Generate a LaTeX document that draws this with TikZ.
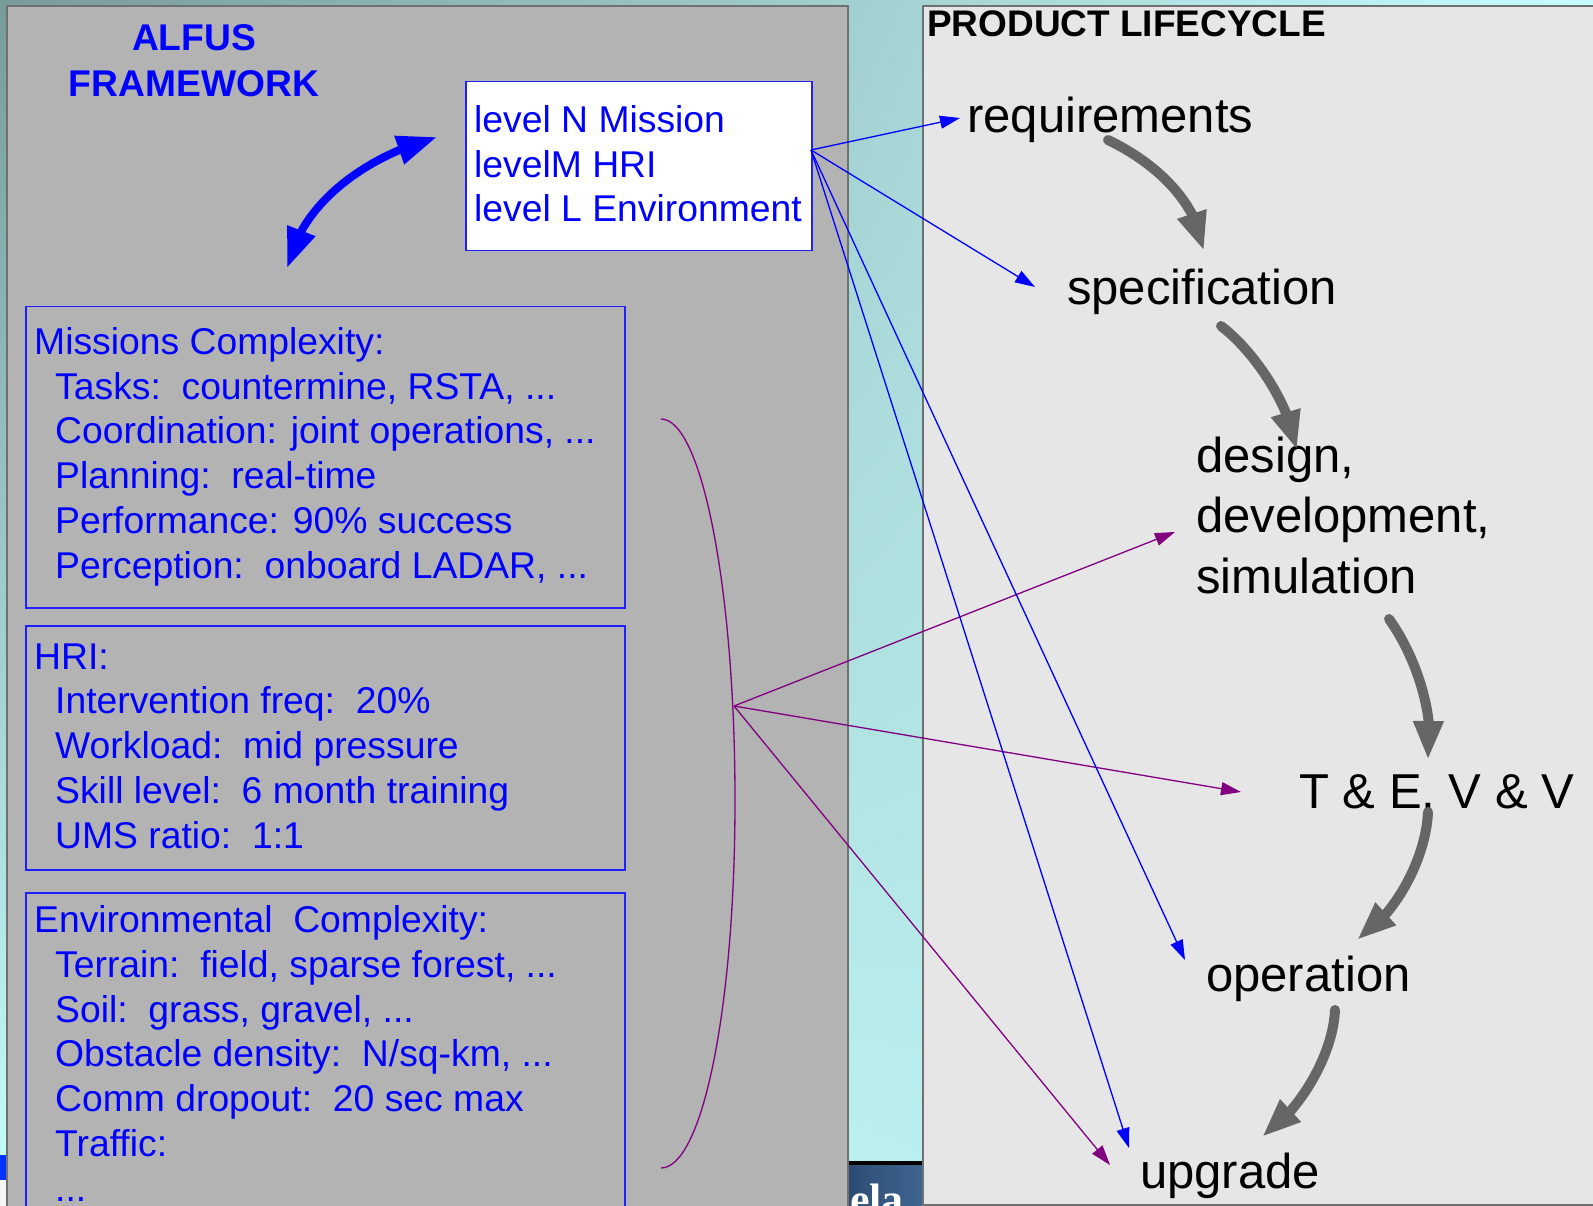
\documentclass[tikz,border=0pt]{standalone}
\usepackage{fontspec}
\setmainfont{Liberation Sans}
\newfontfamily\photoserif{Liberation Serif}
\usetikzlibrary{arrows.meta,bending,shadings}

\definecolor{bgdark}{HTML}{789A9A}
\definecolor{bgcyan}{HTML}{C6FEFE}
\definecolor{bgcyanlow}{HTML}{C6FEFE}
\definecolor{bgteal}{HTML}{B4E4E4}
\definecolor{panelgray}{HTML}{B3B3B3}
\definecolor{panellight}{HTML}{E6E6E6}
\definecolor{edgegray}{HTML}{707070}
\definecolor{cyclegray}{HTML}{666666}
\definecolor{linkblue}{HTML}{0000FF}
\definecolor{linkpurple}{HTML}{800080}
\definecolor{boxblue}{HTML}{2020FF}
\definecolor{photoblue}{HTML}{2E4C72}
\definecolor{photoblue2}{HTML}{3E6590}

\begin{document}
\begin{tikzpicture}[x=1pt,y=-1pt,
  listbox/.style={draw=boxblue, line width=1.5pt, anchor=north west, inner sep=0pt},
  listtext/.style={anchor=base west, inner sep=0pt, align=left, text=linkblue,
    font=\fontsize{37.3}{44.7}\selectfont},
  stage/.style={anchor=base west, inner sep=0pt, align=left, text=black,
    font=\fontsize{49}{60.5}\selectfont},
  cyclearrow/.style={draw=cyclegray, line width=10pt, line cap=round,
    -{Triangle[length=39pt,width=28pt]}},
  bluelink/.style={draw=linkblue, line width=1.3pt, -{Triangle[length=20pt,width=13pt]}},
  purplelink/.style={draw=linkpurple, line width=1.3pt, -{Triangle[length=20pt,width=13pt]}},
]
\useasboundingbox (0,0) rectangle (1593,1206);
\clip (0,0) rectangle (1593,1206);

% slide background
\shade[upper left=bgdark, upper right=bgcyan, lower left=bgcyanlow, lower right=bgteal]
  (0,0) rectangle (1593,1206);
\fill[blue!80!cyan] (0,1155) rectangle (7,1180);
\fill[gray!8] (0,1180) rectangle (7,1206);

% photo strip between the panels
\fill[black] (848,1161) rectangle (923,1165);
\shade[left color=photoblue, right color=photoblue2] (848,1165) rectangle (923,1206);
\node (photo) [anchor=base west, inner sep=0pt, text=white,
  font=\photoserif\bfseries\fontsize{44}{44}\selectfont] at (850,1214) {ela};

% left panel: ALFUS framework
\fill[panelgray] (7,6) rectangle (848,1215);
\draw[edgegray, line width=1.2pt] (7,1215) -- (7,6) -- (848,6) -- (848,1215);

% right panel: product lifecycle
\filldraw[fill=panellight, draw=edgegray, line width=1.5pt] (923,6) rectangle (1610,1205);

% multi-line texts are placed by the baseline of their last line
\node (title) [anchor=base, inner sep=0pt, align=center, text=linkblue,
  font=\bfseries\fontsize{37.2}{46}\selectfont] at (194,97) {ALFUS\\FRAMEWORK};
\node (lctitle) [anchor=base west, inner sep=0pt, text=black,
  font=\bfseries\fontsize{37}{44}\selectfont] at (927,37) {PRODUCT LIFECYCLE};

% level box
\node (levels) [listbox, fill=white, minimum width=346pt, minimum height=169pt] at (465,81) {};
\node (levelstext) [listtext] at (474,222) {level N Mission\\levelM HRI\\level L Environment};

% complexity boxes
\node (mbox) [listbox, minimum width=599pt, minimum height=301pt] at (25,306) {};
\node (mtext) [listtext] at (34,578) {Missions Complexity:\\
  \hspace*{21pt}Tasks:\ \ countermine, RSTA, ...\\
  \hspace*{21pt}Coordination: joint operations, ...\\
  \hspace*{21pt}Planning:\ \ real-time\\
  \hspace*{21pt}Performance: 90\% success\\
  \hspace*{21pt}Perception:\ \ onboard LADAR, ...};

\node (hbox) [listbox, minimum width=599pt, minimum height=244pt] at (25,625) {};
\node (htext) [listtext] at (34,848) {HRI:\\
  \hspace*{21pt}Intervention freq:\ \ 20\%\\
  \hspace*{21pt}Workload:\ \ mid pressure\\
  \hspace*{21pt}Skill level:\ \ 6 month training\\
  \hspace*{21pt}UMS ratio:\ \ 1:1};

\node (ebox) [listbox, minimum width=599pt, minimum height=330pt] at (25,892) {};
\node (etext) [listtext] at (34,1201) {Environmental\ \ Complexity:\\
  \hspace*{21pt}Terrain:\ \ field, sparse forest, ...\\
  \hspace*{21pt}Soil:\ \ grass, gravel, ...\\
  \hspace*{21pt}Obstacle density:\ \ N/sq-km, ...\\
  \hspace*{21pt}Comm dropout:\ \ 20 sec max\\
  \hspace*{21pt}Traffic:\\
  \hspace*{21pt}...};

% two-way link between the level box and the complexity boxes
\coordinate (swapa) at (287,268);
\coordinate (swapb) at (437,137);
\draw[linkblue, line width=8pt,
  {Triangle[length=40pt,width=28pt]}-{Triangle[length=40pt,width=28pt]}]
  (swapa) .. controls (302,200) and (370,155) .. (swapb);

% lifecycle stages
\node (req)  [stage] at (967,133)  {requirements};
\node (spec) [stage] at (1067,305) {specification};
\node (dds)  [stage] at (1196,593) {design,\\development,\\simulation};
\node (tev)  [stage] at (1299,808) {T \& E, V \& V};
\node (oper) [stage] at (1206,991) {operation};
\node (upg)  [stage] at (1140,1188) {upgrade};

% lifecycle flow
\draw[cyclearrow] (1108,140) .. controls (1160,165) and (1198,205) .. (1204,251);
\draw[cyclearrow] (1221,326) .. controls (1255,352) and (1290,405) .. (1297,450);
\draw[cyclearrow] (1389,619) .. controls (1415,655) and (1436,715) .. (1428,760);
\draw[cyclearrow] (1428,812) .. controls (1426,857) and (1397,914) .. (1357,940);
\draw[cyclearrow] (1335,1010) .. controls (1333,1055) and (1300,1111) .. (1262,1137);

% grouping curve over the complexity boxes
\coordinate (bracetop) at (661,419);
\coordinate (bracemid) at (735,800);
\coordinate (bracebot) at (661,1168);
\draw[linkpurple, line width=1.3pt]
  (bracetop) .. controls (702,419) and (735,590) .. (bracemid)
  .. controls (735,1010) and (702,1168) .. (bracebot);
\coordinate (bracetip) at (734,706);

% links from the complexity boxes to the stages
\coordinate (dds-in) at (1175,532);
\coordinate (tev-in) at (1241,792);
\coordinate (upg-in-a) at (1110,1165);
\draw[purplelink] (bracetip) -- (dds-in);
\draw[purplelink] (bracetip) -- (tev-in);
\draw[purplelink] (bracetip) -- (upg-in-a);

% links from the level box to the stages
\coordinate (lvsrc) at (811,150);
\coordinate (req-in) at (960,118);
\coordinate (spec-in) at (1035,287);
\coordinate (oper-in) at (1185,960);
\coordinate (upg-in-b) at (1129,1148);
\draw[bluelink] (lvsrc) -- (req-in);
\draw[bluelink] (lvsrc) -- (spec-in);
\draw[bluelink] (lvsrc) -- (oper-in);
\draw[bluelink] (lvsrc) -- (upg-in-b);
\end{tikzpicture}
\end{document}
